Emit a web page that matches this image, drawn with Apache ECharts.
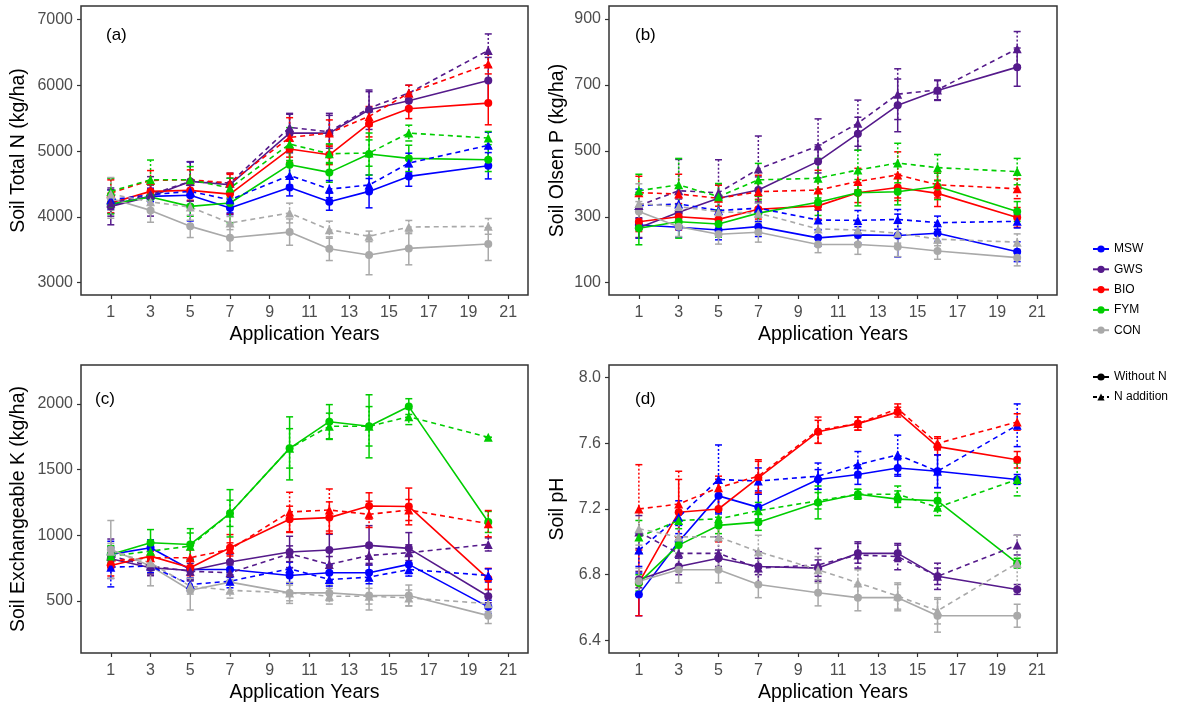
<!DOCTYPE html>
<html>
<head>
<meta charset="utf-8">
<title>Soil properties over application years</title>
<script src="https://cdn.jsdelivr.net/npm/echarts@6/dist/echarts.min.js"></script>
<style>
  html, body { margin: 0; padding: 0; background: #fff; }
  #chart { width: 1181px; height: 707px; }
</style>
</head>
<body>
<div id="chart"></div>
<script>
const years = [1, 3, 5, 7, 10, 12, 14, 16, 20];
const yearTicks = [1, 3, 5, 7, 9, 11, 13, 15, 17, 19, 21];
const treatments = ["MSW", "GWS", "BIO", "FYM", "CON"];

// (a) Soil total N (kg/ha)
const totalN = {
  MSW: [4186, 4313, 4330, 4135, 4450, 4232, 4389, 4617, 4779],
  GWS: [4161, 4313, 4541, 4490, 5276, 5276, 5631, 5768, 6077],
  BIO: [4212, 4389, 4404, 4348, 5033, 4946, 5418, 5646, 5732],
  FYM: [4196, 4303, 4161, 4212, 4795, 4678, 4957, 4891, 4871],
  CON: [4280, 4100, 3857, 3684, 3770, 3517, 3421, 3522, 3588],
};
const totalN_N = {
  MSW: [4262, 4338, 4389, 4262, 4632, 4424, 4485, 4820, 5089],
  GWS: [4212, 4338, 4541, 4516, 5362, 5296, 5656, 5884, 6534],
  BIO: [4364, 4556, 4566, 4516, 5210, 5276, 5530, 5884, 6326],
  FYM: [4389, 4566, 4566, 4440, 5109, 4962, 4972, 5276, 5200],
  CON: [4350, 4230, 4150, 3907, 4060, 3806, 3705, 3847, 3857],
};
const totalN_se = {
  MSW: [130, 80, 150, 100, 130, 130, 250, 150, 200],
  GWS: [280, 300, 300, 100, 300, 300, 300, 100, 350],
  BIO: [150, 100, 150, 300, 200, 150, 200, 150, 330],
  FYM: [150, 120, 150, 300, 200, 150, 320, 200, 180],
  CON: [300, 180, 170, 200, 200, 180, 300, 250, 250],
};
const totalN_N_se = {
  MSW: [150, 100, 450, 200, 150, 130, 100, 150, 200],
  GWS: [200, 150, 300, 150, 200, 250, 250, 120, 250],
  BIO: [200, 150, 150, 150, 300, 200, 150, 120, 150],
  FYM: [200, 300, 200, 150, 250, 150, 200, 120, 100],
  CON: [250, 150, 200, 100, 150, 130, 80, 100, 120],
};

// (b) Soil Olsen P (kg/ha)
const olsenP = {
  MSW: [275, 268, 260, 270, 236, 245, 243, 250, 194],
  GWS: [267, 314, 356, 381, 468, 552, 638, 683, 754],
  BIO: [285, 300, 292, 323, 333, 373, 389, 371, 298],
  FYM: [265, 285, 278, 311, 344, 373, 376, 392, 316],
  CON: [316, 270, 247, 253, 216, 216, 209, 196, 176],
};
const olsenP_N = {
  MSW: [334, 339, 319, 326, 290, 289, 292, 282, 286],
  GWS: [334, 379, 373, 445, 515, 584, 672, 685, 810],
  BIO: [373, 369, 356, 376, 381, 407, 427, 397, 385],
  FYM: [379, 397, 361, 412, 417, 442, 463, 449, 437],
  CON: [340, 331, 315, 311, 263, 260, 250, 232, 223],
};
const olsenP_se = {
  MSW: [40, 30, 30, 30, 25, 25, 65, 25, 30],
  GWS: [30, 40, 40, 40, 50, 50, 80, 30, 58],
  BIO: [30, 40, 40, 30, 40, 30, 40, 40, 30],
  FYM: [50, 50, 40, 40, 40, 40, 40, 40, 30],
  CON: [30, 30, 30, 30, 25, 30, 30, 25, 25],
};
const olsenP_N_se = {
  MSW: [50, 30, 40, 40, 30, 30, 30, 20, 20],
  GWS: [40, 95, 100, 100, 82, 70, 77, 30, 52],
  BIO: [50, 60, 40, 50, 60, 40, 70, 40, 30],
  FYM: [50, 80, 40, 50, 60, 60, 60, 40, 40],
  CON: [60, 40, 30, 30, 25, 25, 30, 20, 25],
};

// (c) Soil exchangeable K (kg/ha)
const exchK = {
  MSW: [855, 906, 740, 740, 695, 715, 715, 779, 456],
  GWS: [822, 753, 733, 797, 873, 888, 924, 901, 537],
  BIO: [771, 842, 753, 906, 1122, 1135, 1224, 1220, 669],
  FYM: [855, 944, 931, 1168, 1662, 1865, 1830, 1980, 1102],
  CON: [893, 766, 582, 644, 562, 562, 542, 542, 389],
};
const exchK_N = {
  MSW: [758, 766, 626, 651, 746, 664, 682, 740, 695],
  GWS: [842, 766, 727, 715, 860, 779, 847, 868, 931],
  BIO: [804, 830, 830, 893, 1178, 1193, 1160, 1193, 1089],
  FYM: [842, 880, 918, 1168, 1662, 1830, 1830, 1903, 1746],
  CON: [880, 791, 613, 582, 562, 537, 537, 524, 480],
};
const exchK_se = {
  MSW: [100, 60, 80, 60, 60, 60, 60, 70, 50],
  GWS: [150, 60, 80, 60, 120, 120, 150, 120, 50],
  BIO: [80, 80, 60, 100, 100, 120, 100, 140, 80],
  FYM: [60, 100, 120, 180, 240, 130, 240, 60, 80],
  CON: [220, 150, 150, 80, 80, 60, 110, 80, 60],
};
const exchK_N_se = {
  MSW: [150, 50, 50, 50, 50, 50, 50, 50, 50],
  GWS: [60, 60, 60, 60, 60, 60, 60, 60, 50],
  BIO: [60, 50, 60, 50, 150, 160, 100, 80, 100],
  FYM: [80, 60, 100, 100, 150, 100, 150, 60, 0],
  CON: [60, 60, 60, 60, 60, 60, 60, 60, 60],
};

// (d) Soil pH
const soilPH = {
  MSW: [6.68, 7.00, 7.28, 7.21, 7.38, 7.41, 7.45, 7.43, 7.38],
  GWS: [6.77, 6.85, 6.90, 6.85, 6.84, 6.93, 6.93, 6.79, 6.71],
  BIO: [6.75, 7.18, 7.20, 7.39, 7.67, 7.72, 7.79, 7.58, 7.50],
  FYM: [6.75, 6.98, 7.10, 7.12, 7.24, 7.29, 7.26, 7.25, 6.87],
  CON: [6.76, 6.83, 6.83, 6.74, 6.69, 6.66, 6.66, 6.55, 6.55],
};
const soilPH_N = {
  MSW: [6.95, 7.15, 7.38, 7.37, 7.40, 7.47, 7.53, 7.43, 7.71],
  GWS: [7.06, 6.93, 6.93, 6.84, 6.86, 6.92, 6.91, 6.79, 6.98],
  BIO: [7.20, 7.23, 7.33, 7.40, 7.68, 7.72, 7.81, 7.60, 7.73],
  FYM: [7.03, 7.13, 7.14, 7.19, 7.25, 7.29, 7.29, 7.21, 7.38],
  CON: [7.08, 7.03, 7.03, 6.94, 6.83, 6.75, 6.67, 6.58, 6.87],
};
const soilPH_se = {
  MSW: [0.13, 0.10, 0.10, 0.10, 0.06, 0.06, 0.05, 0.10, 0.03],
  GWS: [0.05, 0.05, 0.05, 0.05, 0.05, 0.06, 0.05, 0.05, 0.03],
  BIO: [0.20, 0.20, 0.20, 0.10, 0.07, 0.04, 0.03, 0.05, 0.05],
  FYM: [0.05, 0.05, 0.05, 0.05, 0.10, 0.03, 0.05, 0.05, 0.03],
  CON: [0.08, 0.08, 0.08, 0.08, 0.08, 0.08, 0.08, 0.10, 0.07],
};
const soilPH_N_se = {
  MSW: [0.10, 0.10, 0.21, 0.08, 0.08, 0.08, 0.12, 0.10, 0.13],
  GWS: [0.10, 0.10, 0.10, 0.10, 0.10, 0.08, 0.08, 0.08, 0.06],
  BIO: [0.27, 0.20, 0.05, 0.10, 0.08, 0.04, 0.03, 0.04, 0.05],
  FYM: [0.10, 0.05, 0.05, 0.05, 0.05, 0.03, 0.05, 0.05, 0.10],
  CON: [0.10, 0.10, 0.10, 0.10, 0.08, 0.08, 0.08, 0.08, 0.17],
};

const colors = { MSW: "#0000ff", GWS: "#551a8b", BIO: "#ff0000", FYM: "#00cd00", CON: "#a9a9a9" };
const font = "Liberation Sans, Arial, Helvetica, sans-serif";

const panels = [
  { tag: "(a)", name: "Soil Total N (kg/ha)", mean: totalN, meanN: totalN_N, se: totalN_se, seN: totalN_N_se,
    min: 2813, max: 7209, ticks: [3000, 4000, 5000, 6000, 7000], digits: 0,
    grid: { left: 81, top: 6, width: 447, height: 289 }, tagPos: [106, 27], nameGap: 52 },
  { tag: "(b)", name: "Soil Olsen P (kg/ha)", mean: olsenP, meanN: olsenP_N, se: olsenP_se, seN: olsenP_N_se,
    min: 62.6, max: 939.5, ticks: [100, 300, 500, 700, 900], digits: 0,
    grid: { left: 609, top: 6, width: 448, height: 289 }, tagPos: [635, 27], nameGap: 41 },
  { tag: "(c)", name: "Soil Exchangeable K (kg/ha)", mean: exchK, meanN: exchK_N, se: exchK_se, seN: exchK_N_se,
    min: 104.7, max: 2296.5, ticks: [500, 1000, 1500, 2000], digits: 0,
    grid: { left: 81, top: 365, width: 447, height: 288 }, tagPos: [95, 391], nameGap: 52 },
  { tag: "(d)", name: "Soil pH", mean: soilPH, meanN: soilPH_N, se: soilPH_se, seN: soilPH_N_se,
    min: 6.323, max: 8.077, ticks: [6.4, 6.8, 7.2, 7.6, 8.0], digits: 1,
    grid: { left: 609, top: 365, width: 448, height: 288 }, tagPos: [635, 391], nameGap: 41 },
];

function errorBarRender(color, dashed) {
  return function (params, api) {
    const x = api.value(0);
    const top = api.coord([x, api.value(2)]);
    const bot = api.coord([x, api.value(1)]);
    const w = 3.5;
    return {
      type: "group",
      children: [
        { type: "line", shape: { x1: top[0], y1: top[1], x2: bot[0], y2: bot[1] },
          style: { stroke: color, lineWidth: 1.5, lineDash: dashed ? [2, 2] : null } },
        { type: "line", shape: { x1: top[0] - w, y1: top[1], x2: top[0] + w, y2: top[1] }, style: { stroke: color, lineWidth: 1.5 } },
        { type: "line", shape: { x1: bot[0] - w, y1: bot[1], x2: bot[0] + w, y2: bot[1] }, style: { stroke: color, lineWidth: 1.5 } },
      ],
    };
  };
}

const grids = [], xAxes = [], yAxes = [], series = [], titles = [];

panels.forEach((p, k) => {
  grids.push(Object.assign({ show: true, borderColor: "#333", borderWidth: 1.5, backgroundColor: "transparent" }, p.grid));
  titles.push({ text: p.tag, left: p.tagPos[0], top: p.tagPos[1], padding: 0,
    textStyle: { fontFamily: font, fontSize: 17, fontWeight: "normal", color: "#000" } });
  xAxes.push({
    type: "value", gridIndex: k, min: -0.5, max: 22,
    name: "Application Years", nameLocation: "middle", nameGap: 30, nameMoveOverlap: false,
    nameTextStyle: { fontFamily: font, fontSize: 19.5, color: "#000" },
    axisLine: { show: false, onZero: false },
    axisTick: { show: true, customValues: yearTicks, length: 4, lineStyle: { color: "#333", width: 1.2 } },
    axisLabel: { customValues: yearTicks, margin: 10, fontFamily: font, fontSize: 16, color: "#4d4d4d" },
    splitLine: { show: false },
  });
  yAxes.push({
    type: "value", gridIndex: k, min: p.min, max: p.max,
    name: p.name, nameLocation: "middle", nameGap: p.nameGap, nameRotate: 90, nameMoveOverlap: false,
    nameTextStyle: { fontFamily: font, fontSize: 19.5, color: "#000" },
    axisLine: { show: false, onZero: false },
    axisTick: { show: true, customValues: p.ticks, length: 4, lineStyle: { color: "#333", width: 1.2 } },
    axisLabel: { customValues: p.ticks, margin: 8, fontFamily: font, fontSize: 16, color: "#4d4d4d",
      formatter: (v) => v.toFixed(p.digits) },
    splitLine: { show: false },
  });

  [false, true].forEach((withN) => {
    treatments.forEach((t) => {
      const vals = withN ? p.meanN[t] : p.mean[t];
      const errs = withN ? p.seN[t] : p.se[t];
      series.push({
        type: "custom", xAxisIndex: k, yAxisIndex: k, silent: true, z: 2,
        renderItem: errorBarRender(colors[t], withN),
        encode: { x: 0, y: [1, 2] },
        data: years.map((yr, i) => [yr, vals[i] - errs[i], vals[i] + errs[i]]),
      });
    });
  });
  [false, true].forEach((withN) => {
    treatments.forEach((t) => {
      const vals = withN ? p.meanN[t] : p.mean[t];
      series.push({
        name: withN ? t + " + N" : t,
        type: "line", xAxisIndex: k, yAxisIndex: k, z: 3,
        symbol: withN ? "triangle" : "circle",
        symbolSize: withN ? 9 : 8,
        showAllSymbol: true,
        lineStyle: { color: colors[t], width: 1.6, type: withN ? [5, 4] : "solid" },
        itemStyle: { color: colors[t] },
        data: years.map((yr, i) => [yr, vals[i]]),
      });
    });
  });
});

// legend-only entries for the line-type key
series.push({ name: "Without N", type: "line", xAxisIndex: 0, yAxisIndex: 0, data: [],
  symbol: "circle", symbolSize: 8, lineStyle: { color: "#000", width: 1.6 }, itemStyle: { color: "#000" } });
series.push({ name: "N addition", type: "line", xAxisIndex: 0, yAxisIndex: 0, data: [],
  symbol: "triangle", symbolSize: 9, lineStyle: { color: "#000", width: 1.6, type: [4, 3] }, itemStyle: { color: "#000" } });

const legendText = { fontFamily: font, fontSize: 12, color: "#000" };

const chart = echarts.init(document.getElementById("chart"), null, { renderer: "canvas" });
chart.setOption({
  animation: false,
  backgroundColor: "#fff",
  title: titles,
  grid: grids,
  xAxis: xAxes,
  yAxis: yAxes,
  legend: [
    { data: treatments, orient: "vertical", left: 1087, top: 238, itemWidth: 16, itemHeight: 9, itemGap: 8.3,
      textStyle: legendText, selectedMode: false },
    { data: ["Without N", "N addition"], orient: "vertical", left: 1087, top: 366, itemWidth: 16, itemHeight: 9, itemGap: 8,
      textStyle: legendText, selectedMode: false },
  ],
  series: series,
});
</script>
</body>
</html>
